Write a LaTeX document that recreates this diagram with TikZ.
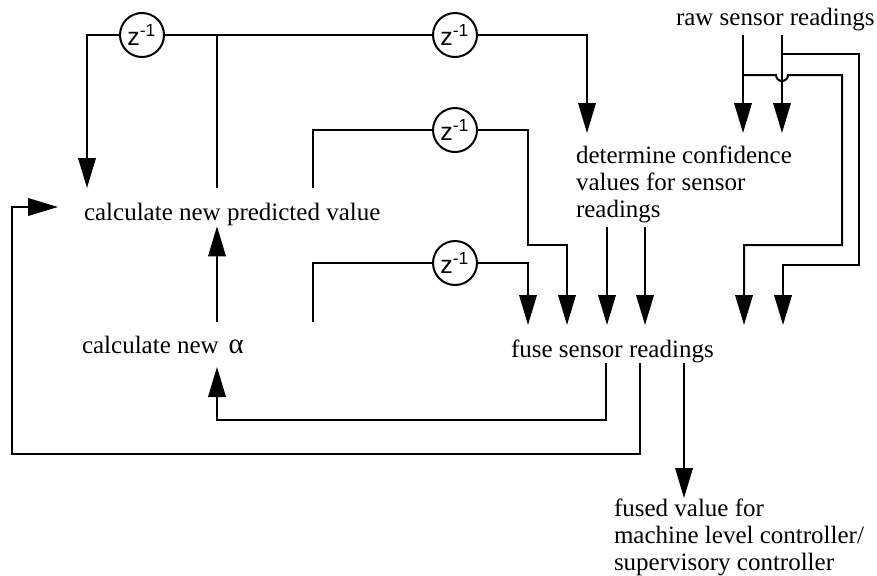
\documentclass[tikz,border=0pt]{standalone}
\usepackage{fontspec}
\setmainfont{Liberation Serif}
\setsansfont{Liberation Sans}
\usetikzlibrary{arrows.meta}

\begin{document}
\begin{tikzpicture}
[x=0.4pt,y=-0.4pt,line width=0.8pt,>={Triangle[length=12pt,width=7pt]},
delay/.style={draw,circle,minimum size=17.6pt,inner sep=0pt,font=\sffamily\fontsize{10}{12}\selectfont},
txt/.style={anchor=base west,inner sep=0pt,align=left,font=\fontsize{10}{10.7}\selectfont},]

\useasboundingbox (0,0) rectangle (877,575);

%Text blocks (multi-line ones sit on their last baseline)
\node (predict) at (83,220)[txt] {calculate new predicted value};
\node (alpha) at (81,353)[txt] {calculate new\hspace{1.5pt} {\fontsize{11.5}{12}\selectfont α}};
\node (conf) at (575,217)[txt] {determine confidence\\values for sensor\\readings};
\node (fuse) at (510,357)[txt] {fuse sensor readings};
\node (raw) at (675,25)[txt] {raw sensor readings};
\node (out) at (613,570)[txt] {fused value for\\machine level controller/\\supervisory controller};

%Unit delays
\node (d1) at (142,35)[delay] {z\textsuperscript{-1}};
\node (d2) at (455,35)[delay] {z\textsuperscript{-1}};
\node (d3) at (455,130)[delay] {z\textsuperscript{-1}};
\node (d4) at (455,263)[delay] {z\textsuperscript{-1}};

%Line ends
\coordinate (pin1) at (87,188);
\coordinate (pin2) at (58,207);
\coordinate (pout) at (217,188);
\coordinate (pout2) at (313,188);
\coordinate (ain) at (217,367);
\coordinate (aout) at (217,322);
\coordinate (aout2) at (313,322);
\coordinate (cin) at (587,133);
\coordinate (cout1) at (607,227);
\coordinate (cout2) at (645,227);
\coordinate (r1) at (743,35);
\coordinate (r2) at (782,35);
\coordinate (f1) at (528,325);
\coordinate (f2) at (567,325);
\coordinate (f3) at (607,325);
\coordinate (f4) at (645,325);
\coordinate (f5) at (744,325);
\coordinate (f6) at (783,325);
\coordinate (u1) at (606,363);
\coordinate (u2) at (640,363);
\coordinate (u3) at (684,363);

%Prediction loop
\draw (pout) |- (d1.east);
\draw (d1.east) -- (d2.west);
\draw[->] (d1.west) -| (pin1);
\draw[->] (d2.east) -| (cin);
\draw[->] (aout) -- (predict.south -| aout);

%Delayed inputs of fusion
\draw (pout2) |- (d3.west);
\draw[->] (d3.east) -| (528,245) -| (f2);
\draw (aout2) |- (d4.west);
\draw[->] (d4.east) -| (f1);

%Confidence values
\draw[->] (cout1) -- (f3);
\draw[->] (cout2) -- (f4);

%Raw readings
\draw[->] (r1) -- (743,133);
\draw[->] (r2) -- (782,133);
\draw[->] (743,75) -- (776,75) arc[start angle=180,end angle=0,radius=6] -- (842,75) |- (744,245) -- (f5);
\draw[->] (782,54) -- (859,54) |- (783,265) -- (f6);

%Fusion outputs
\draw[->] (u1) -- (606,420) -| (ain);
\draw[->] (u2) -- (640,454) -| (12,207) -- (pin2);
\draw[->] (u3) -- (684,498);

\end{tikzpicture}
\end{document}
